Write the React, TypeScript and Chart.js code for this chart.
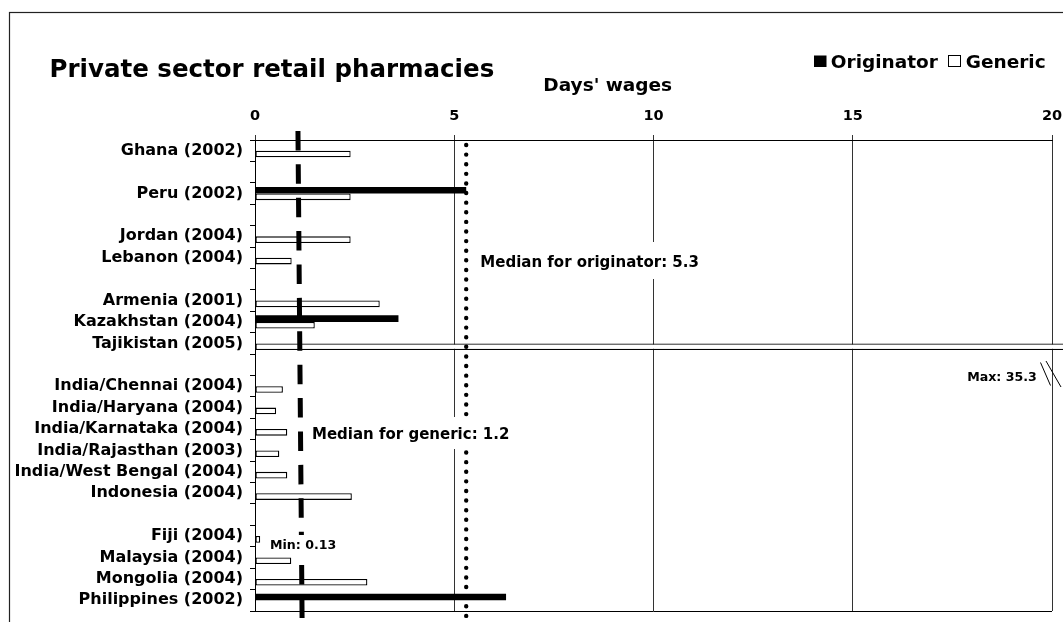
import React, { useEffect, useRef } from 'react';
import { Chart, registerables } from 'chart.js';

Chart.register(...registerables);

const FONT = '"DejaVu Sans", Verdana, sans-serif';

const categories = [
  'Ghana (2002)', '', 'Peru (2002)', '', 'Jordan (2004)', 'Lebanon (2004)', '',
  'Armenia (2001)', 'Kazakhstan (2004)', 'Tajikistan (2005)', '',
  'India/Chennai (2004)', 'India/Haryana (2004)', 'India/Karnataka (2004)',
  'India/Rajasthan (2003)', 'India/West Bengal (2004)', 'Indonesia (2004)', '',
  'Fiji (2004)', 'Malaysia (2004)', 'Mongolia (2004)', 'Philippines (2002)',
];
const originator = [
  null, null, 5.3, null, null, null, null,
  null, 3.6, null, null,
  null, null, null, null, null, null, null,
  null, null, null, 6.3,
];
const generic = [
  2.4, null, 2.4, null, 2.4, 0.92, null,
  3.13, 1.5, 35.3, null,
  0.7, 0.53, 0.81, 0.61, 0.81, 2.43, null,
  0.13, 0.91, 2.82, null,
];
const xTickValues = [0, 5, 10, 15, 20];
const medianOriginator = 5.3;
const medianGeneric = 1.2;
// drawn position of the generic median line at the top and bottom of the plot (slightly slanted in the picture)
const medianGenericDrawn = [1.08, 1.18];
const seriesNames = ['Originator', 'Generic'];

const fmt = (v: number) => String(v);

const overlay = {
  id: 'overlay',
  afterDatasetsDraw(chart: any) {
    const { ctx, chartArea: a, scales } = chart;
    const x = scales.x;
    ctx.save();

    // bottom border of plot area
    ctx.strokeStyle = '#000';
    ctx.lineWidth = 1;
    ctx.beginPath();
    ctx.moveTo(a.left, Math.round(a.bottom) + 0.5);
    ctx.lineTo(a.right, Math.round(a.bottom) + 0.5);
    ctx.stroke();

    // dotted originator median
    const xo = x.getPixelForValue(medianOriginator);
    ctx.setLineDash([0.01, 9.6]);
    ctx.lineCap = 'round';
    ctx.lineWidth = 4.4;
    ctx.beginPath();
    ctx.moveTo(xo, a.top + 5);
    ctx.lineTo(xo, chart.height + 10);
    ctx.stroke();

    // dashed generic median
    const xt = x.getPixelForValue(medianGenericDrawn[0]);
    const xb = x.getPixelForValue(medianGenericDrawn[1]);
    const slope = (xb - xt) / (a.bottom - a.top);
    const y0 = a.top - 9.1;
    const y1 = chart.height + 10;
    ctx.setLineDash([19.5, 13.9]);
    ctx.lineCap = 'butt';
    ctx.lineWidth = 5;
    ctx.beginPath();
    ctx.moveTo(xt + slope * (y0 - a.top), y0);
    ctx.lineTo(xt + slope * (y1 - a.top), y1);
    ctx.stroke();
    ctx.setLineDash([]);

    // annotation labels with white backgrounds
    ctx.fillStyle = '#000';
    ctx.textBaseline = 'alphabetic';
    ctx.textAlign = 'left';
    const box = (l: number, t: number, r: number, b: number) => {
      ctx.fillStyle = '#fff';
      ctx.fillRect(l, t, r - l, b - t);
      ctx.fillStyle = '#000';
    };
    box(474, 242, 708, 279);
    ctx.font = `bold 15px ${FONT}`;
    ctx.fillText(`Median for originator: ${fmt(medianOriginator)}`, 480.3, 266.6);

    box(306, 417, 517, 449);
    ctx.fillText(`Median for generic: ${fmt(medianGeneric)}`, 312, 439);

    const vals = generic.filter((v) => v != null) as number[];
    const mn = Math.min(...vals);
    const mx = Math.max(...vals);
    box(266, 535, 344, 557);
    ctx.font = `bold 12.6px ${FONT}`;
    ctx.fillText(`Min: ${fmt(mn)}`, 270, 549.3);
    ctx.fillText(`Max: ${fmt(mx)}`, 967.2, 380.7);

    // axis break marks
    ctx.lineWidth = 1;
    ctx.strokeStyle = '#000';
    ctx.beginPath();
    ctx.moveTo(1040.5, 362.5);
    ctx.lineTo(1050.5, 385.5);
    ctx.moveTo(1046, 361);
    ctx.lineTo(1061, 387);
    ctx.stroke();

    // title
    ctx.font = `bold 24.5px ${FONT}`;
    ctx.fillText('Private sector retail pharmacies', 49.5, 77);

    // axis title
    ctx.font = `bold 18.5px ${FONT}`;
    ctx.fillText("Days' wages", 543.3, 90.7);

    // legend
    const ds = chart.data.datasets;
    ctx.fillStyle = ds[0].backgroundColor;
    ctx.fillRect(814, 55.5, 12.5, 11.5);
    ctx.fillStyle = '#000';
    ctx.fillText(ds[0].label, 830.8, 68.3);
    ctx.fillStyle = ds[1].backgroundColor;
    ctx.fillRect(948.5, 55.5, 12, 11);
    ctx.strokeStyle = ds[1].borderColor;
    ctx.lineWidth = 1;
    ctx.strokeRect(948.5, 55.5, 12, 11);
    ctx.fillStyle = '#000';
    ctx.fillText(ds[1].label, 965.8, 68.3);

    // outer frame
    ctx.strokeStyle = '#222';
    ctx.lineWidth = 1.2;
    ctx.strokeRect(9.5, 12.5, 1100, 700);

    ctx.restore();
  },
};

export default function App() {
  const ref = useRef<HTMLCanvasElement | null>(null);
  useEffect(() => {
    if (!ref.current) return;
    Chart.defaults.font.family = FONT;
    const chart = new Chart(ref.current, {
      type: 'bar',
      data: {
        labels: categories,
        datasets: [
          {
            label: seriesNames[0],
            data: originator,
            backgroundColor: '#000',
            borderWidth: 0,
            categoryPercentage: 0.62,
            barPercentage: 1,
            clip: false,
          } as any,
          {
            label: seriesNames[1],
            data: generic,
            backgroundColor: '#fff',
            borderColor: '#000',
            borderWidth: 1.3,
            borderSkipped: false,
            categoryPercentage: 0.62,
            barPercentage: 1,
            clip: false,
          } as any,
        ],
      },
      options: {
        indexAxis: 'y',
        responsive: false,
        animation: false,
        devicePixelRatio: 1,
        layout: { padding: { left: 10, right: 11, top: 11, bottom: 11 } },
        plugins: { legend: { display: false }, tooltip: { enabled: false }, title: { display: false } },
        scales: {
          x: {
            position: 'top',
            min: 0,
            max: 20,
            afterBuildTicks: (s: any) => {
              s.ticks = xTickValues.map((v) => ({ value: v }));
            },
            ticks: {
              font: { family: FONT, weight: 'bold', size: 14.5 },
              color: '#000',
              padding: 10,
              maxRotation: 0,
            },
            grid: { color: '#333', lineWidth: 1, tickLength: 5, drawTicks: true },
            border: { display: true, color: '#000', width: 1 },
            afterFit: (s: any) => {
              s.height = 129;
              s.paddingLeft = 0;
              s.paddingRight = 0;
            },
          },
          y: {
            type: 'category',
            grid: { drawOnChartArea: false, offset: true, tickLength: 5, color: '#000', lineWidth: 1 },
            border: { display: true, color: '#000', width: 1 },
            ticks: {
              font: { family: FONT, weight: 'bold', size: 16 },
              color: '#000',
              padding: 7,
              autoSkip: false,
            },
            afterFit: (s: any) => {
              s.width = 245;
              s.paddingTop = 0;
              s.paddingBottom = 0;
            },
          },
        },
      } as any,
      plugins: [overlay],
    });
    return () => chart.destroy();
  }, []);

  return (
    <div style={{ position: 'fixed', left: 0, top: 0, width: 1063, height: 622, background: '#fff' }}>
      <canvas ref={ref} width={1063} height={622} style={{ display: 'block' }} />
    </div>
  );
}
